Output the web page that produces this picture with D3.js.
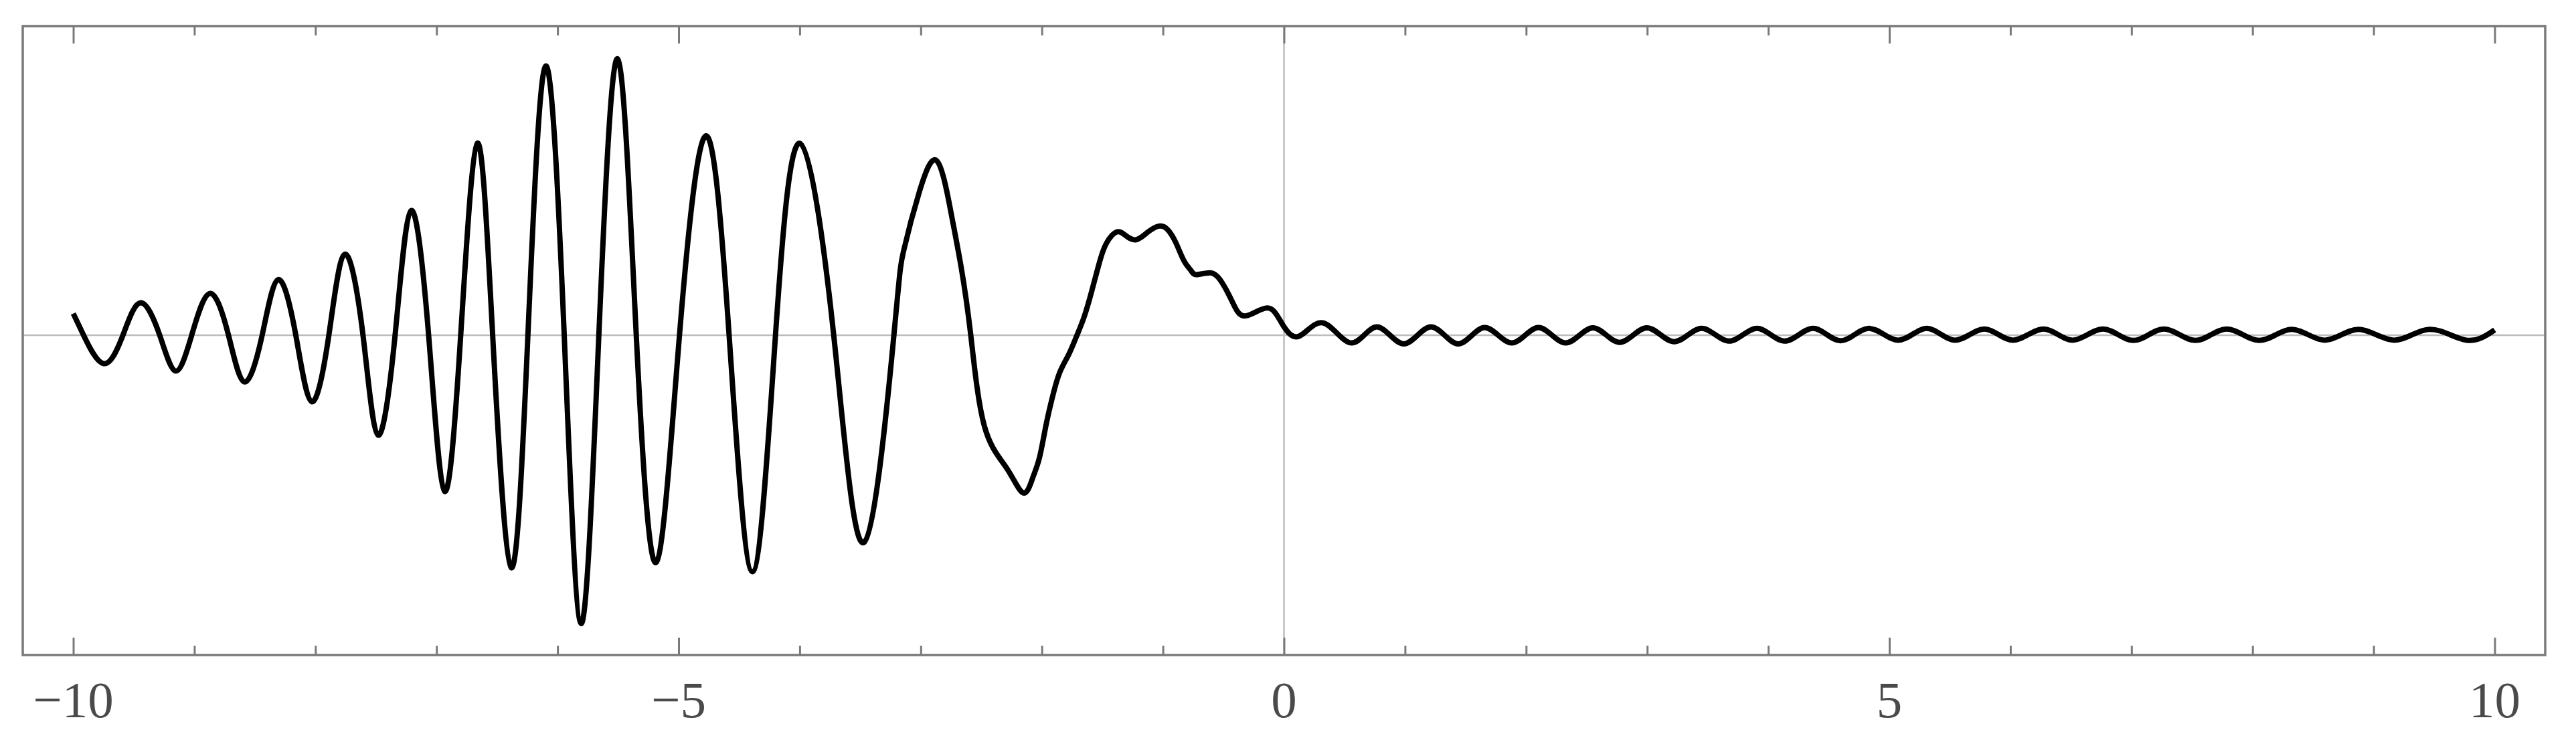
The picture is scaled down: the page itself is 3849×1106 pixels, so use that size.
<!DOCTYPE html>
<html>
<head>
<meta charset="utf-8">
<script src="https://cdn.jsdelivr.net/npm/d3@7"></script>
<style>
  html, body { margin: 0; padding: 0; background: #fff; }
  svg { display: block; }
</style>
</head>
<body>
<script>
// ---- data ----
const xValues = [
  -10.000, -9.915, -9.749, -9.590, -9.444, -9.286, -9.154, -9.022, -8.871, -8.718,
  -8.585, -8.440, -8.307, -8.162, -8.030, -7.889, -7.757, -7.607, -7.483, -7.342,
  -7.210, -7.065, -6.933, -6.800, -6.663, -6.536, -6.383, -6.245, -6.098, -5.945,
  -5.805, -5.659, -5.504, -5.350, -5.186, -4.993, -4.774, -4.583, -4.390, -4.200,
  -3.999, -3.719, -3.468, -3.222, -3.143, -3.010, -2.865, -2.746, -2.666, -2.587,
  -2.476, -2.292, -2.154, -2.074, -2.019, -1.963, -1.908, -1.853, -1.779, -1.715,
  -1.650, -1.585, -1.521, -1.466, -1.383, -1.306, -1.220, -1.123, -1.030, -0.962,
  -0.894, -0.825, -0.768, -0.722, -0.607, -0.527, -0.458, -0.401, -0.310, -0.138,
  -0.023,
  0.120, 0.324, 0.556, 0.768, 0.990, 1.214, 1.438, 1.656, 1.881, 2.102,
  2.326, 2.550, 2.771, 2.996, 3.220, 3.448, 3.676, 3.907, 4.135, 4.369,
  4.597, 4.831, 5.073, 5.309, 5.543, 5.784, 6.022, 6.273, 6.514, 6.765,
  7.017, 7.268, 7.529, 7.787, 8.055, 8.322, 8.597, 8.875, 9.170, 9.461,
  9.763, 10.000
];
const yValues = [
  0.070, 0, -0.092, 0, 0.105, 0, -0.116, 0, 0.135, 0,
  -0.151, 0, 0.180, 0, -0.215, 0, 0.262, 0, -0.323, 0,
  0.403, 0, -0.505, 0, 0.621, 0, -0.752, 0, 0.871, 0,
  -0.933, 0, 0.894, 0, -0.735, 0, 0.645, 0, -0.765, 0,
  0.621, 0, -0.670, 0, 0.271, 0.466, 0.563, 0.388, 0.219, 0,
  -0.292, -0.429, -0.510, -0.460, -0.395, -0.286, -0.193, -0.121, -0.063, -0.005,
  0.060, 0.147, 0.240, 0.298, 0.334, 0.322, 0.309, 0.334, 0.353, 0.342,
  0.300, 0.240, 0.209, 0.196, 0.202, 0.179, 0.133, 0.088, 0.063, 0.088,
  0.042,
  -0.004, 0.040, -0.025, 0.027, -0.028, 0.027, -0.028, 0.025, -0.025, 0.025,
  -0.025, 0.024, -0.023, 0.024, -0.021, 0.022, -0.019, 0.022, -0.019, 0.022,
  -0.018, 0.022, -0.016, 0.022, -0.016, 0.020, -0.016, 0.020, -0.016, 0.020,
  -0.017, 0.020, -0.017, 0.020, -0.017, 0.019, -0.016, 0.019, -0.016, 0.019,
  -0.016, 0.017
];
const majorTicks = [-10, -5, 0, 5, 10];
const minorTicks = [-9, -8, -7, -6, -4, -3, -2, -1, 1, 2, 3, 4, 6, 7, 8, 9];
const tickLabels = ["\u221210", "\u22125", "0", "5", "10"];

// ---- layout ----
const W = 3849, H = 1106;
const frame = { left: 34, right: 3803, top: 39, bottom: 979 };

const x = d3.scaleLinear().domain([-10, 10]).range([109.5, 3727.5]);
const y = d3.scaleLinear().domain([-1.0346, 1]).range([frame.bottom, frame.top]);

const svg = d3.select("body").append("svg")
  .attr("width", W).attr("height", H)
  .attr("viewBox", `0 0 ${W} ${H}`);

svg.append("rect").attr("width", W).attr("height", H).attr("fill", "#fff");

// axes through origin
svg.append("line")
  .attr("x1", frame.left).attr("x2", frame.right)
  .attr("y1", y(0)).attr("y2", y(0))
  .attr("stroke", "#bdbdbd").attr("stroke-width", 2.5);
svg.append("line")
  .attr("x1", x(0)).attr("x2", x(0))
  .attr("y1", frame.top).attr("y2", frame.bottom)
  .attr("stroke", "#bdbdbd").attr("stroke-width", 2.5);

// curve
const pts = xValues.map((d, i) => [d, yValues[i]]);
const line = d3.line()
  .x(d => x(d[0])).y(d => y(d[1]))
  .curve(d3.curveNatural);
svg.append("path")
  .attr("d", line(pts))
  .attr("fill", "none")
  .attr("stroke", "#000")
  .attr("stroke-width", 8)
  .attr("stroke-linejoin", "round");

// frame ticks (bottom & top) via d3 axes
const frameColor = "#7a7a7a";
function tickAxis(gen, ty) {
  const g = svg.append("g").attr("transform", `translate(0,${ty})`).call(gen);
  g.select(".domain").remove();
  g.selectAll(".tick line").attr("stroke", frameColor).attr("stroke-width", 3);
  g.selectAll(".tick text").remove();
  return g;
}
tickAxis(d3.axisTop(x).tickValues(majorTicks).tickSize(26), frame.bottom);
tickAxis(d3.axisTop(x).tickValues(minorTicks).tickSize(14), frame.bottom);
tickAxis(d3.axisBottom(x).tickValues(majorTicks).tickSize(26), frame.top);
tickAxis(d3.axisBottom(x).tickValues(minorTicks).tickSize(14), frame.top);

// labels
svg.append("g").selectAll("text")
  .data(majorTicks)
  .join("text")
  .attr("x", d => x(d))
  .attr("y", 1072)
  .attr("text-anchor", "middle")
  .attr("font-family", "'Liberation Serif', 'Times New Roman', serif")
  .attr("font-size", 77)
  .attr("fill", "#4a4a4a")
  .text((d, i) => tickLabels[i]);

// frame
svg.append("rect")
  .attr("x", frame.left).attr("y", frame.top)
  .attr("width", frame.right - frame.left).attr("height", frame.bottom - frame.top)
  .attr("fill", "none").attr("stroke", frameColor).attr("stroke-width", 3.5);
</script>
</body>
</html>
